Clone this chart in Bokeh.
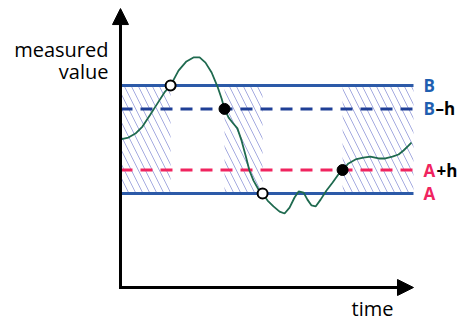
from bokeh.plotting import figure
from bokeh.models import Range1d, Arrow, NormalHead, Label
from bokeh.embed import file_html
from bokeh.resources import INLINE

# ---- data ----
time_start, time_end, value_top = 0.0, 10.0, 11.87
A, h, B = 4.0, 1.0, 8.6

signal_t = [0.00, 0.27, 0.51, 0.75, 1.02, 1.30, 1.50, 1.71, 1.98, 2.25, 2.49, 2.70,
            2.90, 3.11, 3.31, 3.45, 3.55, 3.69, 3.82, 3.99, 4.13, 4.27, 4.40, 4.54,
            4.71, 4.85, 5.02, 5.22, 5.43, 5.60, 5.77, 5.94, 6.08, 6.25, 6.38, 6.52,
            6.66, 6.83, 7.03, 7.24, 7.41, 7.58, 7.78, 8.02, 8.29, 8.53, 8.81, 9.04,
            9.28, 9.49, 9.66, 9.83, 9.93]
signal_v = [6.30, 6.38, 6.55, 6.85, 7.36, 7.91, 8.30, 8.60, 9.23, 9.62, 9.79, 9.79,
            9.57, 9.15, 8.55, 8.04, 7.60, 7.23, 7.02, 6.77, 6.26, 5.62, 4.98, 4.55,
            4.17, 4.00, 3.70, 3.45, 3.23, 3.15, 3.40, 3.83, 4.09, 4.04, 3.74, 3.49,
            3.45, 3.74, 4.13, 4.47, 4.77, 5.00, 5.28, 5.45, 5.53, 5.57, 5.49, 5.49,
            5.57, 5.66, 5.83, 6.04, 6.17]

open_t = [1.71, 4.85]          # crossings of B (up) and A (down)
open_v = [B, A]
filled_t = [3.55, 7.58]        # crossings of B-h (down) and A+h (up)
filled_v = [B - h, A + h]

region_start = [0.0, 3.55, 7.58]
region_end = [1.71, 4.85, 10.0]

# ---- figure ----
p = figure(width=465, height=322, output_backend="svg", toolbar_location=None,
           x_range=Range1d(-4.0956, 11.775), y_range=Range1d(-1.489, 12.213),
           min_border=0, outline_line_color=None)
p.axis.visible = False
p.grid.visible = False
p.background_fill_color = "white"

# hatched hysteresis regions
p.quad(left=region_start, right=region_end, bottom=[A] * 3, top=[B] * 3,
       fill_alpha=0, line_color=None, hatch_pattern="\\", hatch_color="#8f96d8",
       hatch_weight=1, hatch_scale=14, hatch_alpha=0.8)

# thresholds
p.line([time_start, time_end], [B, B], line_color="#2c5aa8", line_width=3)
p.line([time_start, time_end], [A, A], line_color="#2c5aa8", line_width=3)
p.line([time_start, time_end], [B - h, B - h], line_color="#1f3f96", line_width=3,
       line_dash="12 8")
p.line([time_start, time_end], [A + h, A + h], line_color="#f0245f", line_width=3,
       line_dash="12 8")

# signal
p.line(signal_t, signal_v, line_color="#1f6a4f", line_width=1.8)

# markers
p.scatter(open_t, open_v, size=10, fill_color="white", line_color="black", line_width=2)
p.scatter(filled_t, filled_v, size=11, fill_color="black", line_color="black")

# axes with arrows
p.add_layout(Arrow(x_start=time_start, y_start=0, x_end=time_start, y_end=value_top,
                   line_width=3, line_color="black", line_cap="square",
                   end=NormalHead(size=16, fill_color="black", line_color="black", line_width=1),
                   start=None))
p.add_layout(Arrow(x_start=time_start, y_start=0, x_end=time_end, y_end=0,
                   line_width=3, line_color="black", line_cap="square",
                   end=NormalHead(size=16, fill_color="black", line_color="black", line_width=1),
                   start=None))

font = "Open Sans"
# axis titles
p.add_layout(Label(x=time_start, y=10.13, text="measured", x_offset=-12,
                   text_align="right", text_baseline="alphabetic",
                   text_font=font, text_font_size="20px", text_color="black"))
p.add_layout(Label(x=time_start, y=9.19, text="value", x_offset=-12,
                   text_align="right", text_baseline="alphabetic",
                   text_font=font, text_font_size="20px", text_color="black"))
p.add_layout(Label(x=time_end, y=0, text="time", x_offset=-20, y_offset=-21,
                   text_align="right", text_baseline="middle",
                   text_font=font, text_font_size="20px", text_color="black"))

# threshold labels
blue, pink = "#1f5fb0", "#f0245f"
def lab(y, txt, color, off):
    p.add_layout(Label(x=time_end, y=y, text=txt, x_offset=off, text_align="left",
                       text_baseline="middle", text_font=font, text_font_size="17px",
                       text_font_style="bold", text_color=color))

lab(B, "B", blue, 10)
lab(B - h, "B", blue, 10)
lab(B - h, "\u2013h", "black", 22)
lab(A + h, "A", pink, 10)
lab(A + h, "+h", "black", 23)
lab(A, "A", pink, 10)

open("out.html", "w").write(file_html(p, INLINE))
